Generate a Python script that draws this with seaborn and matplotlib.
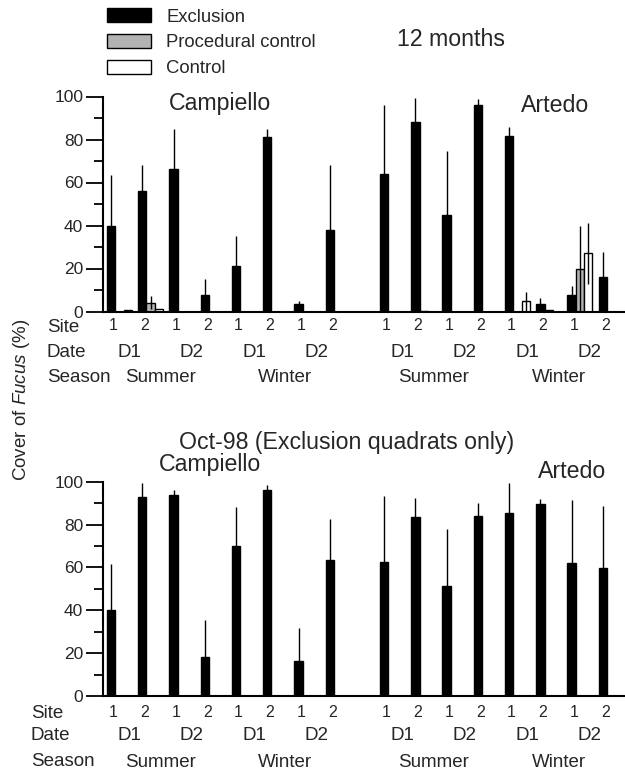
import numpy as np
import pandas as pd
import seaborn as sns
import matplotlib
matplotlib.use("Agg")
import matplotlib.pyplot as plt
from matplotlib.patches import Patch
from matplotlib.ticker import MultipleLocator

W, H = 625, 774

# design: location x season x date x site
location = ["Campiello"] * 8 + ["Artedo"] * 8
season = (["Summer"] * 4 + ["Winter"] * 4) * 2
date = ["D1", "D1", "D2", "D2"] * 4
site = ["1", "2"] * 8

treatments = ["Exclusion", "Procedural control", "Control"]
colors = ["black", "#b3b3b3", "white"]

# 12 months: mean cover and top of error line
excl_12m = [40, 56, 66.5, 7.5, 21, 81, 3.5, 38, 64, 88, 45, 96, 81.5, 3.5, 7.5, 16]
excl_12m_up = [63.5, 68, 85, 15, 35, 85, 4.8, 68, 96, 99.5, 74.5, 99, 86, 6.5, 12, 27.5]
proc_12m = [0, 4, 0, 0, 0, 0, 0, 0, 0, 0.3, 0, 0, 0, 0.8, 20, 0]
proc_12m_up = [0, 7, 0, 0, 0, 0, 0, 0, 0, 0, 0, 0, 0, 0, 39.7, 0]
ctrl_12m = [0.5, 1, 0, 0, 0, 0, 0, 0, 0, 0, 0, 0, 4.7, 0, 27, 0]
ctrl_12m_up = [0, 0, 0, 0, 0, 0, 0, 0, 0, 0, 0, 0, 9.3, 0, 41, 0]

# Oct-98, exclusion quadrats only
excl_oct = [40, 93, 94, 18, 70, 96, 16.5, 63.5, 62.5, 83.5, 51.5, 84, 85.5, 89.5, 62, 59.5]
excl_oct_up = [61.5, 99.5, 96, 35.5, 88, 98.5, 31.5, 82.5, 93.5, 92.5, 78, 90, 99.5, 92, 91.5, 88.5]

sns.set_style("ticks")
plt.rcParams["font.family"] = ["Liberation Sans", "DejaVu Sans"]
plt.rcParams["mathtext.fontset"] = "custom"
plt.rcParams["mathtext.rm"] = "Liberation Sans"
plt.rcParams["mathtext.it"] = "Liberation Sans:italic"


def fx(x):
    return x / W


def fy(y):
    return 1 - y / H


# group centres, with a wider gap between the two locations
gap = 0.74
idx = np.arange(16)
pos = idx + np.where(idx >= 8, gap, 0.0)
off = 0.8 / 3
excl_x = pos - off

fig = plt.figure(figsize=(W / 100, H / 100), dpi=100)
ax1 = fig.add_axes([fx(102.7), fy(311.5), 1 - fx(102.7), (311.5 - 96.5) / H])
ax2 = fig.add_axes([fx(102.7), fy(696), 1 - fx(102.7), (696 - 481.7) / H])

df12 = pd.DataFrame({
    "pos": np.tile(pos, 3),
    "cover": excl_12m + proc_12m + ctrl_12m,
    "treatment": np.repeat(treatments, 16),
})
sns.barplot(data=df12, x="pos", y="cover", hue="treatment", hue_order=treatments,
            palette=colors, native_scale=True, width=0.8, dodge=True, errorbar=None,
            edgecolor="black", linewidth=1, legend=False, ax=ax1)

dfoct = pd.DataFrame({"pos": excl_x, "cover": excl_oct})
sns.barplot(data=dfoct, x="pos", y="cover", color="black", native_scale=True,
            width=off, errorbar=None, edgecolor="black", linewidth=1, ax=ax2)


def err_lines(ax, means, ups):
    for cont, m_arr, u_arr in zip(ax.containers, means, ups):
        for bar, m, u in zip(cont, m_arr, u_arr):
            if u > m:
                x = bar.get_x() + bar.get_width() / 2
                ax.vlines(x, max(2 * m - u, 0), u, color="black", lw=1.0, zorder=5)


err_lines(ax1, [excl_12m, proc_12m, ctrl_12m], [excl_12m_up, proc_12m_up, ctrl_12m_up])
err_lines(ax2, [excl_oct], [excl_oct_up])

tick_x = excl_x + 0.08
lab = pd.DataFrame({"location": location, "season": season, "date": date, "x": tick_x})
date_x = lab.groupby(["location", "season", "date"], sort=False)["x"].mean()
season_x = lab.groupby(["location", "season"], sort=False)["x"].mean()

for ax, site_pad, date_y, season_y in [(ax1, 4.5, -0.19, -0.308), (ax2, 6.7, -0.184, -0.308)]:
    sns.despine(ax=ax)
    ax.set_xlim(-off - 0.266, 16.18)
    ax.set_ylim(0, 100)
    ax.set_yticks(range(0, 101, 20))
    ax.yaxis.set_minor_locator(MultipleLocator(10))
    ax.tick_params(axis="y", which="major", length=12, width=1.3, labelsize=12.5, pad=2, color="black")
    ax.tick_params(axis="y", which="minor", length=6.5, width=1.3, color="black")
    ax.set_xticks(tick_x)
    ax.set_xticklabels(site)
    ax.tick_params(axis="x", length=0, pad=site_pad, labelsize=11.5)
    ax.set_xlabel("")
    ax.set_ylabel("")
    for sp in ("left", "bottom"):
        ax.spines[sp].set_linewidth(1.5)
        ax.spines[sp].set_color("black")
    tr = ax.get_xaxis_transform()
    for (_, _, d), x in date_x.items():
        ax.text(x, date_y, d, transform=tr, ha="center", va="center", fontsize=13.5)
    for (_, s), x in season_x.items():
        ax.text(x, season_y, s, transform=tr, ha="center", va="center", fontsize=13.5)

# row headings
for x0, ys in [(46.7, (327, 352.5, 378)), (30.7, (714, 736, 762))]:
    for name, y in zip(["Site", "Date", "Season"], ys):
        fig.text(fx(x0), fy(y), name, ha="left", va="center", fontsize=13.5)

title_fs = 16.7
fig.text(fx(220), fy(103.3), "Campiello", ha="center", va="center", fontsize=title_fs)
fig.text(fx(555), fy(105), "Artedo", ha="center", va="center", fontsize=title_fs)
fig.text(fx(210), fy(465), "Campiello", ha="center", va="center", fontsize=title_fs)
fig.text(fx(572), fy(471.7), "Artedo", ha="center", va="center", fontsize=title_fs)
fig.text(fx(451), fy(40), "12 months", ha="center", va="center", fontsize=title_fs)
fig.text(fx(347), fy(442), "Oct-98 (Exclusion quadrats only)", ha="center", va="center", fontsize=title_fs)
fig.text(fx(22), fy(400), "Cover of $\\mathit{Fucus}$ (%)", rotation=90,
         ha="center", va="center", fontsize=13.5)

handles = [Patch(facecolor=c, edgecolor="black", linewidth=1) for c in colors]
fig.legend(handles, treatments, loc="upper left", bbox_to_anchor=(fx(106.7), fy(8)),
           frameon=False, fontsize=13.3, handlelength=2.38, handleheight=0.81,
           handletextpad=0.85, labelspacing=0.45, borderpad=0, borderaxespad=0)

fig.savefig("out.png", dpi=100)
